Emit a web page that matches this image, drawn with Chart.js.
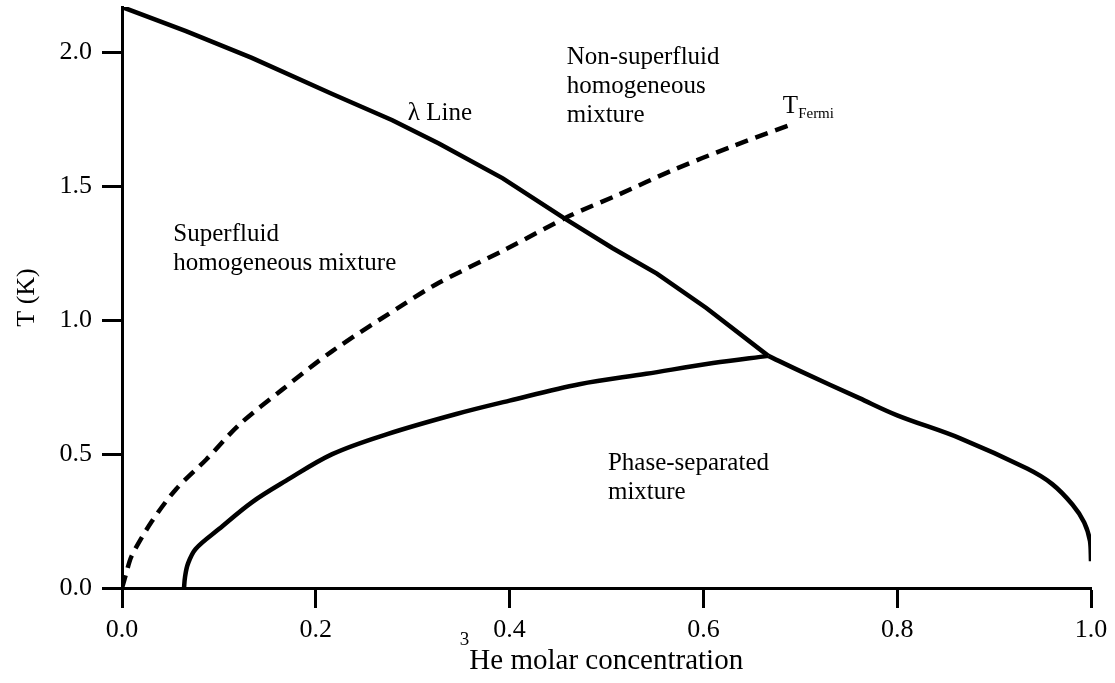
<!DOCTYPE html>
<html>
<head>
<meta charset="utf-8">
<title>3He-4He phase diagram</title>
<script src="https://cdn.jsdelivr.net/npm/chart.js@4.4.1/dist/chart.umd.min.js"></script>
<style>
  html, body { margin: 0; padding: 0; background: #fff; }
  #wrap { width: 1115px; height: 683px; }
</style>
</head>
<body>
<div id="wrap"><canvas id="phaseChart" width="1115" height="683"></canvas></div>
<script>
// lambda line (superfluid transition)
const lambdaX = [0, 0.066, 0.134, 0.217, 0.279, 0.327, 0.393, 0.455, 0.506, 0.552, 0.603, 0.667];
const lambdaT = [2.17, 2.08, 1.98, 1.845, 1.747, 1.66, 1.53, 1.384, 1.27, 1.174, 1.046, 0.867];

// phase separation, dilute (4He rich) branch
const diluteX = [0.064, 0.065, 0.068, 0.076, 0.1, 0.134, 0.169, 0.217, 0.273, 0.345, 0.4, 0.472, 0.541, 0.61, 0.667];
const diluteT = [0, 0.04, 0.09, 0.146, 0.22, 0.32, 0.40, 0.50, 0.574, 0.65, 0.70, 0.761, 0.80, 0.84, 0.867];

// phase separation, concentrated (3He rich) branch
const concX = [0.667, 0.70, 0.761, 0.80, 0.865, 0.934, 0.96, 0.981, 0.993, 0.999, 1.0];
const concT = [0.867, 0.81, 0.709, 0.645, 0.559, 0.446, 0.388, 0.311, 0.245, 0.175, 0.1];

// Fermi temperature of the 3He component
const fermiX = [0, 0.004, 0.010, 0.031, 0.056, 0.087, 0.121, 0.165, 0.217, 0.293, 0.327, 0.397, 0.462, 0.513, 0.568, 0.630, 0.69];
const fermiT = [0, 0.05, 0.12, 0.25, 0.37, 0.48, 0.61, 0.74, 0.885, 1.065, 1.14, 1.267, 1.39, 1.47, 1.56, 1.65, 1.73];

const xTicks = [0, 0.2, 0.4, 0.6, 0.8, 1.0];
const yTicks = [0, 0.5, 1.0, 1.5, 2.0];

const serif = "'Liberation Serif', 'Times New Roman', serif";

function pts(xs, ys) {
  return xs.map((x, i) => ({ x: x, y: ys[i] }));
}

// text labels inside the plot, anchored left / baseline in data units
const notes = [
  { lines: ['λ Line'], x: 0.295, y: 1.748 },
  { lines: ['Non-superfluid', 'homogeneous', 'mixture'], x: 0.459, y: 1.957 },
  { lines: ['Superfluid', 'homogeneous mixture'], x: 0.053, y: 1.296 },
  { lines: ['Phase-separated', 'mixture'], x: 0.5015, y: 0.441 }
];

const labelPlugin = {
  id: 'labels',
  afterDraw(chart) {
    const ctx = chart.ctx;
    const xs = chart.scales.x, ys = chart.scales.y;
    ctx.save();
    ctx.fillStyle = '#000';
    ctx.textBaseline = 'alphabetic';
    ctx.textAlign = 'left';
    ctx.font = '25px ' + serif;
    notes.forEach(n => {
      const px = xs.getPixelForValue(n.x);
      const py = ys.getPixelForValue(n.y);
      n.lines.forEach((t, i) => ctx.fillText(t, px, py + i * 29));
    });

    // T_Fermi with subscript
    let px = xs.getPixelForValue(0.682), py = ys.getPixelForValue(1.774);
    ctx.font = '25px ' + serif;
    ctx.fillText('T', px, py);
    px += ctx.measureText('T').width;
    ctx.font = '15px ' + serif;
    ctx.fillText('Fermi', px, py + 5);

    // x axis title with superscript 3
    const main = 'He molar concentration';
    ctx.font = '29px ' + serif;
    const wMain = ctx.measureText(main).width;
    ctx.font = '19px ' + serif;
    const wSup = ctx.measureText('3').width;
    const cx = (chart.chartArea.left + chart.chartArea.right) / 2 - 5;
    const tx = cx - (wMain + wSup) / 2;
    ctx.fillText('3', tx, 645);
    ctx.font = '29px ' + serif;
    ctx.fillText(main, tx + wSup, 669);
    ctx.restore();
  }
};

const line = { borderColor: '#000', borderWidth: 4.5, pointRadius: 0, showLine: true, fill: false };

new Chart(document.getElementById('phaseChart').getContext('2d'), {
  type: 'scatter',
  data: {
    datasets: [
      Object.assign({ label: 'λ Line', data: pts(lambdaX, lambdaT), tension: 0 }, line),
      Object.assign({ label: 'Dilute branch', data: pts(diluteX, diluteT), tension: 0.35 }, line),
      Object.assign({ label: 'Concentrated branch', data: pts(concX, concT), tension: 0.35 }, line),
      Object.assign({ label: 'T Fermi', data: pts(fermiX, fermiT), borderDash: [13, 8], tension: 0.3 }, line)
    ]
  },
  options: {
    responsive: false,
    animation: false,
    devicePixelRatio: 1,
    layout: { padding: { top: 7, right: 24, left: 0, bottom: 0 } },
    plugins: {
      legend: { display: false },
      tooltip: { enabled: false }
    },
    scales: {
      x: {
        type: 'linear',
        min: 0,
        max: 1,
        ticks: {
          padding: 7,
          color: '#000',
          font: { family: serif, size: 26 },
          callback: v => v.toFixed(1)
        },
        grid: { drawOnChartArea: false, drawTicks: true, tickLength: 20, tickWidth: 3, tickColor: '#000' },
        border: { display: true, color: '#000', width: 3 },
        afterBuildTicks: s => { s.ticks = xTicks.map(v => ({ value: v })); },
        afterFit: s => { s.height = 95; s.paddingLeft = 0; s.paddingRight = 0; }
      },
      y: {
        type: 'linear',
        min: 0,
        max: 2.17,
        ticks: {
          padding: 10,
          color: '#000',
          font: { family: serif, size: 26 },
          callback: v => v.toFixed(1)
        },
        grid: { drawOnChartArea: false, drawTicks: true, tickLength: 20, tickWidth: 3, tickColor: '#000' },
        border: { display: true, color: '#000', width: 3 },
        title: {
          display: true,
          text: 'T (K)',
          color: '#000',
          font: { family: serif, size: 26 },
          padding: { top: 12, bottom: 0 }
        },
        afterBuildTicks: s => { s.ticks = yTicks.map(v => ({ value: v })); },
        afterFit: s => { s.width = 122; s.paddingTop = 0; s.paddingBottom = 0; }
      }
    }
  },
  plugins: [labelPlugin]
});
</script>
</body>
</html>
